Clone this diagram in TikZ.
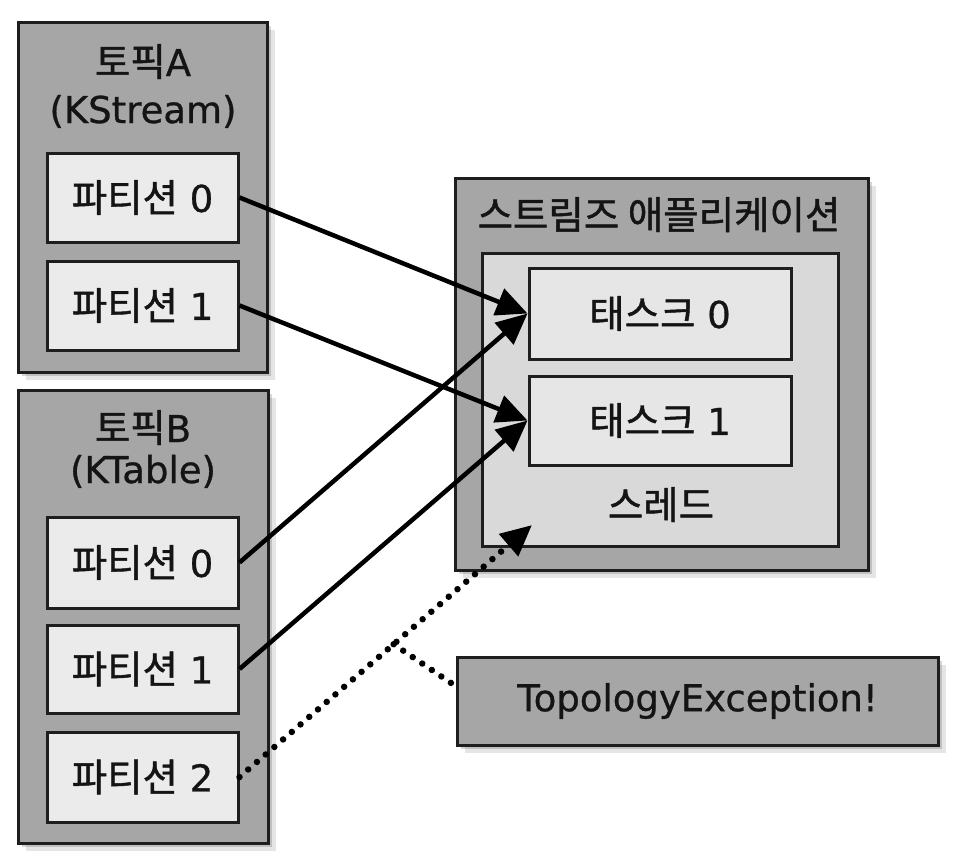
\documentclass[tikz,border=0pt]{standalone}
\usepackage{fontspec}
\setmainfont[FakeBold=0.8]{DejaVu Sans}
\newfontfamily\kofont[FakeBold=1.2]{Noto Sans CJK KR}
\usetikzlibrary{arrows.meta,shadows,calc}
\newcommand\ko[1]{{\kofont\fontsize{38.5}{42}\selectfont #1}}
\definecolor{boxgrey}{HTML}{A6A6A6}
\definecolor{partfill}{HTML}{EBEBEB}
\definecolor{thrfill}{HTML}{D9D9D9}
\definecolor{taskfill}{HTML}{E6E6E6}
\definecolor{edge}{HTML}{1E1E1E}
\begin{document}
\begin{tikzpicture}[x=1pt,y=-1pt,
  every node/.style={font=\fontsize{37}{42}\selectfont, inner sep=0pt, text=black!92},
  sh/.style={drop shadow={shadow xshift=4pt, shadow yshift=-4pt, fill=black, opacity=0.16},
             drop shadow={shadow xshift=8pt, shadow yshift=-8pt, fill=black, opacity=0.10}},
  outerbox/.style={rectangle, draw=edge, line width=3pt, fill=boxgrey},
  partbox/.style={rectangle, draw=edge, line width=3pt, fill=partfill, minimum width=191pt},
  thrbox/.style={rectangle, draw=edge, line width=3pt, fill=thrfill},
  taskbox/.style={rectangle, draw=edge, line width=3pt, fill=taskfill, minimum width=262pt},
  lbl/.style={anchor=base},
  arr/.style={line width=4.5pt, black, -{Triangle[length=31pt, width=28pt]}},
  dotline/.style={line width=6.5pt, black, dash pattern=on 0.01pt off 11.5pt, line cap=round},
]
\useasboundingbox[fill=white] (0,0) rectangle (958,854);

% Topic A
\node[outerbox, sh, minimum width=249pt, minimum height=350pt] (ta) at (142.5,197) {};
\node[lbl] (tal1) at (143,76) {\ko{토픽}A};
\node[lbl] (tal2) at (143,123) {(KStream)};
\node[partbox, minimum height=89pt] (ap0) at (142.5,197.5) {\ko{파티션} 0};
\node[partbox, minimum height=89pt] (ap1) at (142.5,305.5) {\ko{파티션} 1};

% Topic B
\node[outerbox, sh, minimum width=250pt, minimum height=453pt] (tb) at (143,616.5) {};
\node[lbl] (tbl1) at (143,442) {\ko{토픽}B};
\node[lbl] (tbl2) at (143,483) {(KTable)};
\node[partbox, minimum height=91pt] (bp0) at (142.5,562.5) {\ko{파티션} 0};
\node[partbox, minimum height=88pt] (bp1) at (142.5,669) {\ko{파티션} 1};
\node[partbox, minimum height=90pt] (bp2) at (142.5,777) {\ko{파티션} 2};

% Streams application
\node[outerbox, sh, minimum width=413pt, minimum height=392pt] (app) at (661.5,374) {};
\node[lbl] (appl) at (659,229) {\ko{스트림즈 애플리케이션}};
\node[thrbox, minimum width=356pt, minimum height=293pt] (thr) at (660,399.5) {};
\node[taskbox, minimum height=91pt] (t0) at (660,313.5) {\ko{태스크} 0};
\node[taskbox, minimum height=89pt] (t1) at (660,420.5) {\ko{태스크} 1};
\node[lbl] (thrl) at (661,519) {\ko{스레드}};

% Exception
\node[outerbox, sh, minimum width=481pt, minimum height=88pt] (topo) at (697.5,701) {TopologyException!};

% connectors
\draw[arr] (ap0.east) -- (t0.west);
\draw[arr] (ap1.east) -- (t1.west);
\draw[arr] (bp0.east) -- (t0.west);
\draw[arr] (bp1.east) -- (t1.west);

\coordinate (thrin) at (532,525);
\coordinate (br) at ($(bp2.east)!0.527!(thrin)$);
\coordinate (topin) at ($(topo.west)+(0,-15)$);
\draw[dotline, -{Triangle[length=31pt, width=28pt]}] (bp2.east) -- (thrin);
\draw[dotline] (br) -- (topin);
\end{tikzpicture}
\end{document}
